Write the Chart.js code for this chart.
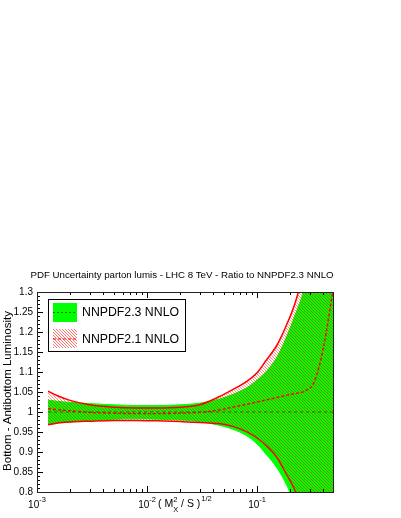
<!DOCTYPE html>
<html>
<head>
<meta charset="utf-8">
<script src="https://cdn.jsdelivr.net/npm/chart.js@4.4.0/dist/chart.umd.min.js"></script>
<style>
  body { margin: 0; background: #fff; }
  #wrap { width: 401px; height: 518px; }
</style>
</head>
<body>
<div id="wrap"><canvas id="lumiChart" width="401" height="518"></canvas></div>
<script>
// valores (razao a NNPDF2.3 NNLO)
const xVals     = [0.00126, 0.0015, 0.002, 0.003, 0.005, 0.008, 0.012, 0.02, 0.03, 0.045, 0.06, 0.08, 0.1, 0.12, 0.15, 0.18, 0.22, 0.27, 0.33, 0.4, 0.5];
const nnpdf23Up = [1.030, 1.027, 1.024, 1.021, 1.018, 1.016, 1.016, 1.018, 1.022, 1.032, 1.044, 1.060, 1.080, 1.100, 1.135, 1.180, 1.240, 1.310, 1.42, 1.60, 1.90];
const nnpdf23Dn = [0.970, 0.972, 0.975, 0.978, 0.982, 0.983, 0.982, 0.980, 0.976, 0.967, 0.957, 0.941, 0.920, 0.895, 0.862, 0.825, 0.770, 0.700, 0.60, 0.45, 0.20];
const nnpdf23Cv = [1, 1, 1, 1, 1, 1, 1, 1, 1, 1, 1, 1, 1, 1, 1, 1, 1, 1, 1, 1, 1];
const nnpdf21Up = [1.052, 1.042, 1.029, 1.018, 1.012, 1.010, 1.010, 1.012, 1.018, 1.038, 1.056, 1.076, 1.098, 1.128, 1.165, 1.210, 1.270, 1.360, 1.48, 1.65, 1.95];
const nnpdf21Dn = [0.968, 0.972, 0.975, 0.977, 0.979, 0.979, 0.978, 0.976, 0.974, 0.971, 0.964, 0.951, 0.935, 0.917, 0.888, 0.850, 0.805, 0.740, 0.65, 0.50, 0.30];
const nnpdf21Cv = [1.008, 1.006, 1.003, 0.999, 0.997, 0.996, 0.996, 0.997, 0.999, 1.005, 1.012, 1.019, 1.025, 1.030, 1.036, 1.041, 1.046, 1.052, 1.075, 1.16, 1.32];
// pedaco vertical vermelho na borda direita
const edgeX = [0.5, 0.5];
const edgeY = [1.31, 1.225];

const yTickLabels = ['0.8', '0.85', '0.9', '0.95', '1', '1.05', '1.1', '1.15', '1.2', '1.25', '1.3'];
const xTickVals = [0.001, 0.01, 0.1];
const xTickExps = ['-3', '-2', '-1'];
const legendLabels = ['NNPDF2.3 NNLO', 'NNPDF2.1 NNLO'];
const titleText = 'PDF Uncertainty parton lumis - LHC 8 TeV - Ratio to NNPDF2.3 NNLO';
const yTitle = 'Bottom - Antibottom Luminosity';

const FONT = '"Liberation Sans", Arial, Helvetica, sans-serif';
const GREEN = '#00ff00';
const RED = '#ff0000';

const canvas = document.getElementById('lumiChart');
const ctx = canvas.getContext('2d');

// hachura vermelha tipo ROOT (pixels na diagonal)
function makeHatch(bg, alpha) {
    const c = document.createElement('canvas');
    c.width = 3; c.height = 3;
    const g = c.getContext('2d');
    if (bg) { g.fillStyle = bg; g.fillRect(0, 0, 3, 3); }
    g.fillStyle = 'rgba(255,0,0,' + alpha + ')';
    for (let i = 0; i < 3; i++) g.fillRect(i, i, 1, 1);
    return ctx.createPattern(c, 'repeat');
}
const hatch = makeHatch(null, 0.45);
const hatchLegend = makeHatch('#ffffff', 0.55);

const pts = arr => xVals.map((x, i) => ({ x: x, y: arr[i] }));

const rootStyle = {
    id: 'rootStyle',
    afterDraw(chart) {
        const c = chart.ctx;
        const ca = chart.chartArea;
        const xs = chart.scales.x, ys = chart.scales.y;
        c.save();
        c.fillStyle = '#000';
        c.strokeStyle = '#000';
        c.lineWidth = 1;

        // titulo
        c.font = '9.7px ' + FONT;
        c.textAlign = 'center';
        c.textBaseline = 'alphabetic';
        c.fillText(titleText, 182, 278);

        // ticks do eixo y (para dentro)
        c.beginPath();
        for (let i = 0; i <= 50; i++) {
            const py = Math.round(ys.getPixelForValue(0.8 + i * 0.01)) + 0.5;
            const len = i % 5 === 0 ? 6 : 3;
            c.moveTo(ca.left, py); c.lineTo(ca.left + len, py);
        }
        // ticks do eixo x, embaixo e em cima
        xTickVals.forEach(d => {
            for (let m = 1; m <= 9; m++) {
                const v = d * m;
                if (v >= 0.5) break;
                const px = Math.round(xs.getPixelForValue(v)) + 0.5;
                const len = m === 1 ? 6 : 3;
                c.moveTo(px, ca.bottom); c.lineTo(px, ca.bottom - len);
                c.moveTo(px, ca.top); c.lineTo(px, ca.top + len);
            }
        });
        c.stroke();

        // moldura
        c.strokeStyle = '#222';
        c.strokeRect(Math.round(ca.left) + 0.5, Math.round(ca.top) + 0.5,
            Math.round(ca.right - ca.left) - 1, Math.round(ca.bottom - ca.top));

        // rotulos do eixo x: 10^n
        c.textAlign = 'left';
        xTickVals.forEach((v, i) => {
            const px = xs.getPixelForValue(v);
            c.font = '10px ' + FONT;
            const w1 = c.measureText('10').width;
            c.font = '7.5px ' + FONT;
            const w2 = c.measureText(xTickExps[i]).width;
            const x0 = px - (w1 + w2) / 2;
            c.font = '10px ' + FONT;
            c.fillText('10', x0, 508);
            c.font = '7.5px ' + FONT;
            c.fillText(xTickExps[i], x0 + w1, 502);
        });

        // titulo do eixo x: ( M_X^2 / S )^{1/2}
        let tx = 158;
        c.font = '10.5px ' + FONT;
        c.fillText('( M', tx, 507);
        tx += c.measureText('( M').width;
        c.font = '7.5px ' + FONT;
        c.fillText('2', tx, 502);
        c.fillText('X', tx, 512);
        tx += c.measureText('X').width;
        c.font = '10.5px ' + FONT;
        c.fillText(' / S )', tx, 507);
        tx += c.measureText(' / S )').width;
        c.font = '7.5px ' + FONT;
        c.fillText('1/2', tx + 1, 501);

        // titulo do eixo y
        c.save();
        c.translate(8, 391);
        c.rotate(-Math.PI / 2);
        c.font = '11.5px ' + FONT;
        c.textAlign = 'center';
        c.textBaseline = 'middle';
        c.fillText(yTitle, 0, 0);
        c.restore();

        // legenda
        c.fillStyle = '#fff';
        c.fillRect(48.5, 299.5, 137, 52);
        c.strokeStyle = '#000';
        c.strokeRect(48.5, 299.5, 137, 52);
        c.fillStyle = GREEN;
        c.fillRect(53, 303, 24, 19);
        c.strokeStyle = '#2e5a1e';
        c.setLineDash([2, 2]);
        c.beginPath(); c.moveTo(53, 312.5); c.lineTo(77, 312.5); c.stroke();
        c.fillStyle = hatchLegend;
        c.fillRect(53, 329, 24, 19);
        c.strokeStyle = RED;
        c.lineWidth = 1.2;
        c.setLineDash([3, 2]);
        c.beginPath(); c.moveTo(53, 339); c.lineTo(77, 339); c.stroke();
        c.setLineDash([]);
        c.fillStyle = '#000';
        c.font = '12.3px ' + FONT;
        c.textAlign = 'left';
        c.textBaseline = 'middle';
        c.fillText(legendLabels[0], 82, 313);
        c.fillText(legendLabels[1], 82, 340);
        c.restore();
    }
};

new Chart(ctx, {
    type: 'line',
    data: {
        datasets: [
            { label: 'NNPDF2.1 central', data: pts(nnpdf21Cv), order: 0, borderColor: RED, borderWidth: 1.4, borderDash: [3, 2], fill: false },
            { label: 'edge', data: edgeX.map((x, i) => ({ x: x, y: edgeY[i] })), order: 0, borderColor: RED, borderWidth: 1.4, fill: false },
            { label: 'NNPDF2.1 NNLO', data: pts(nnpdf21Up), order: 2, borderColor: RED, borderWidth: 1.5, backgroundColor: hatch, fill: 3 },
            { label: 'NNPDF2.1 low', data: pts(nnpdf21Dn), order: 1, borderColor: RED, borderWidth: 1.5, fill: false },
            { label: 'NNPDF2.3 central', data: pts(nnpdf23Cv), order: 3, borderColor: '#3a5a2a', borderWidth: 1, borderDash: [3, 3], fill: false },
            { label: 'NNPDF2.3 NNLO', data: pts(nnpdf23Up), order: 4, borderColor: GREEN, borderWidth: 1, backgroundColor: GREEN, fill: '+1' },
            { label: 'NNPDF2.3 low', data: pts(nnpdf23Dn), order: 5, borderColor: GREEN, borderWidth: 1, fill: false }
        ]
    },
    options: {
        responsive: false,
        animation: false,
        layout: { padding: { top: 292, right: 67, left: 0, bottom: 0 } },
        elements: {
            point: { radius: 0, hoverRadius: 0 },
            line: { cubicInterpolationMode: 'monotone' }
        },
        plugins: {
            legend: { display: false },
            tooltip: { enabled: false },
            title: { display: false }
        },
        scales: {
            x: {
                type: 'logarithmic',
                min: 0.001,
                max: 0.5,
                ticks: { display: false },
                grid: { display: false, drawTicks: false },
                border: { display: false },
                afterFit(scale) { scale.height = 26; }
            },
            y: {
                type: 'linear',
                min: 0.8,
                max: 1.3,
                ticks: {
                    stepSize: 0.05,
                    padding: 4,
                    color: '#000',
                    font: { family: FONT, size: 10 },
                    callback: (value, index) => yTickLabels[index]
                },
                grid: { display: false, drawTicks: false },
                border: { display: false },
                afterFit(scale) { scale.width = 37; }
            }
        }
    },
    plugins: [rootStyle]
});
</script>
</body>
</html>
